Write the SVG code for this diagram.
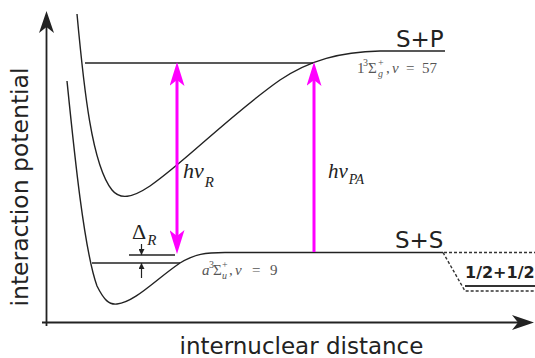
<svg xmlns="http://www.w3.org/2000/svg" width="535" height="358" viewBox="0 0 535 358">
<style>
.curve{fill:none;stroke:#222;stroke-width:1.4}
.level{fill:none;stroke:#222;stroke-width:1.3}
.axis{fill:none;stroke:#222;stroke-width:1.8}
.dash{fill:none;stroke:#333;stroke-width:1.4;stroke-dasharray:3,2}
.photon{fill:none;stroke:#ff00ff;stroke-width:3}
.lbl{font-family:"DejaVu Sans",sans-serif;fill:#222}
.math{font-family:"Liberation Serif","DejaVu Serif",serif;fill:#222}
.ann{font-family:"Liberation Serif","DejaVu Serif",serif;fill:#555}
.it{font-style:italic}
</style>
<defs>
<marker id="mag" viewBox="0 0 24 15" refX="7" refY="7.5" markerWidth="24" markerHeight="15" markerUnits="userSpaceOnUse" orient="auto-start-reverse">
<path d="M0,0 L24,7.5 L0,15 L6,7.5 Z" fill="#ff00ff"/>
</marker>
<marker id="ax" viewBox="0 0 22 15" refX="6" refY="7.5" markerWidth="22" markerHeight="15" markerUnits="userSpaceOnUse" orient="auto">
<path d="M0,0 L22,7.5 L0,15 L6,7.5 Z" fill="#222"/>
</marker>
<marker id="sm" viewBox="0 0 6 6" refX="6" refY="3" markerWidth="6" markerHeight="6" markerUnits="userSpaceOnUse" orient="auto">
<path d="M0,0 L6,3 L0,6 Z" fill="#222"/>
</marker>
</defs>

<g id="axes">
<line class="axis" x1="46.5" y1="326" x2="46.5" y2="27" marker-end="url(#ax)"/>
<line class="axis" x1="42" y1="322.5" x2="518" y2="322.5" marker-end="url(#ax)"/>
</g>

<g id="curve-SP">
<path class="curve" d="M77,14 C84,90 92,165 112,190 C120,200 132,198 150,186 C185,162 230,115 280,80 C310,60 340,52 380,51 L445,51"/>
<line class="level" x1="85" y1="63" x2="313" y2="63"/>
</g>

<g id="curve-SS">
<path class="curve" d="M67,81 C74,150 84,250 97,286 C104,300 109,305 117,304 C135,302 155,280 180,263 C195,254 205,252.5 225,252.5 L443,252.5"/>
<line class="level" x1="92" y1="263" x2="180" y2="263"/>
<line class="level" x1="129" y1="255" x2="175" y2="255"/>
</g>

<g id="asymptote-half">
<path class="dash" d="M444,252.5 L535,252.5 M443,252.5 L465,291 L535,291"/>
<line x1="465" y1="286" x2="535" y2="286" stroke="#333" stroke-width="2"/>
<text class="lbl" x="465" y="278" font-size="16" font-weight="bold">1/2+1/2</text>
</g>

<g id="connectors">
<line class="photon" x1="177" y1="79" x2="177" y2="237" marker-start="url(#mag)" marker-end="url(#mag)"/>
<line class="photon" x1="314" y1="252" x2="314" y2="79" marker-end="url(#mag)"/>
<line x1="141.5" y1="244" x2="141.5" y2="255" stroke="#222" stroke-width="1.2" marker-end="url(#sm)"/>
<line x1="141.5" y1="278" x2="141.5" y2="263" stroke="#222" stroke-width="1.2" marker-end="url(#sm)"/>
</g>

<g id="labels">
<text class="lbl" x="396" y="47" font-size="23">S+P</text>
<text class="lbl" x="395" y="248" font-size="23">S+S</text>
<text class="lbl" x="301.5" y="354" font-size="23" text-anchor="middle">internuclear distance</text>
<text class="lbl" transform="translate(28,187) rotate(-90)" font-size="23.5" text-anchor="middle">interaction potential</text>

<text class="math it" x="183" y="178" font-size="22">hν<tspan font-size="15" dx="1" dy="9">R</tspan></text>
<text class="math it" x="328" y="178" font-size="21">hν<tspan font-size="14" dx="1" dy="6">PA</tspan></text>

<text class="math" x="132" y="239" font-size="22">Δ<tspan class="it" font-size="15" dx="1" dy="6">R</tspan></text>

<g class="ann" font-size="15">
<text x="357" y="73">1</text>
<text x="363" y="66" font-size="10">3</text>
<text x="368" y="73">Σ</text>
<text x="378" y="66" font-size="10">+</text>
<text x="378" y="77" font-size="10" class="it">g</text>
<text x="386" y="73">,</text>
<text x="392" y="73" class="it">ν</text>
<text x="406" y="73">=</text>
<text x="422" y="73">57</text>

<text x="202" y="275" class="it">a</text>
<text x="209" y="268" font-size="10">3</text>
<text x="213" y="275">Σ</text>
<text x="222" y="268" font-size="10">+</text>
<text x="222" y="279" font-size="10" class="it">u</text>
<text x="229" y="275">,</text>
<text x="235" y="275" class="it">ν</text>
<text x="252" y="275">=</text>
<text x="270" y="275">9</text>
</g>
</g>
</svg>
